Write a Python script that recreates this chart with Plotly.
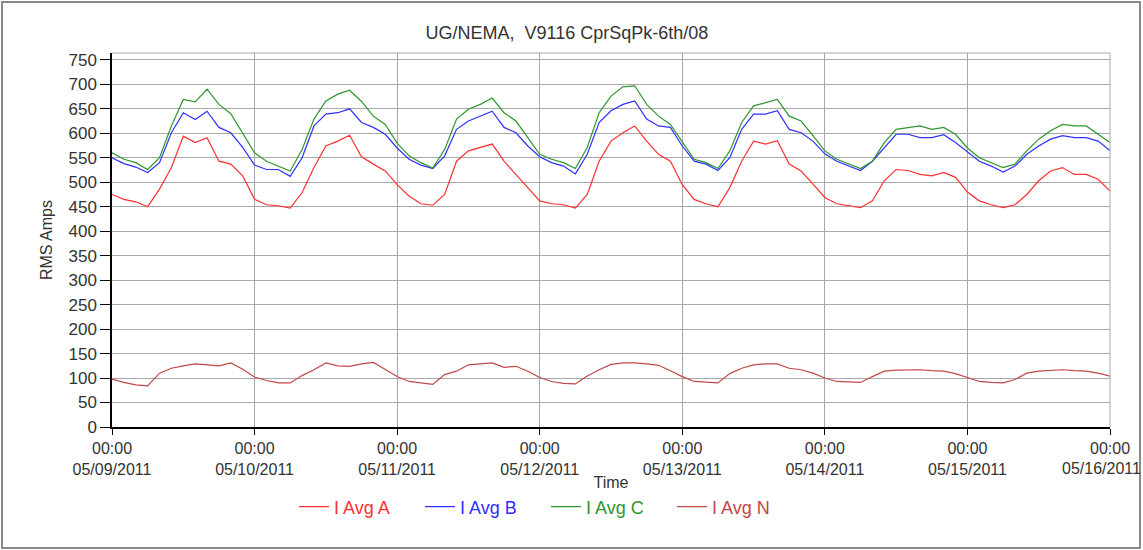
import pandas as pd
import plotly.graph_objects as go

# 2-hourly readings, 05/09/2011 00:00 .. 05/16/2011 00:00
i_avg_a = [475, 465, 460, 450, 486, 530, 594, 581, 591, 543, 537, 513,
           465, 454, 452, 447, 479, 530, 574, 584, 596, 552, 537, 523,
           495, 472, 456, 453, 475, 543, 564, 571, 578, 543, 516, 489,
           462, 456, 454, 447, 475, 543, 584, 601, 615, 584, 557, 543,
           495, 465, 456, 450, 489, 543, 584, 578, 585, 537, 523, 496,
           469, 456, 452, 448, 462, 503, 526, 524, 516, 513, 520, 510,
           480, 462, 454, 448, 454, 475, 503, 523, 530, 516, 516, 506,
           482]
i_avg_b = [550, 538, 531, 520, 540, 601, 642, 628, 645, 612, 601, 571,
           535, 526, 526, 512, 550, 615, 639, 642, 650, 622, 612, 598,
           570, 547, 535, 528, 554, 608, 625, 635, 645, 612, 601, 574,
           552, 540, 533, 517, 557, 622, 646, 659, 666, 629, 615, 612,
           574, 543, 537, 524, 550, 608, 639, 639, 646, 608, 601, 584,
           558, 543, 533, 524, 543, 571, 598, 598, 591, 591, 597, 581,
           562, 543, 533, 521, 533, 557, 574, 588, 595, 591, 591, 584,
           565]
i_avg_c = [560, 547, 540, 526, 550, 615, 669, 664, 690, 659, 640, 601,
           560, 543, 533, 523, 567, 629, 666, 680, 688, 665, 635, 618,
           580, 554, 540, 529, 567, 629, 649, 659, 672, 642, 625, 591,
           557, 547, 540, 528, 571, 642, 676, 695, 697, 659, 635, 618,
           583, 547, 540, 528, 564, 622, 656, 663, 669, 635, 625, 595,
           564, 547, 537, 528, 543, 581, 608, 612, 615, 608, 612, 598,
           570, 550, 540, 530, 537, 564, 588, 605, 618, 615, 615, 598,
           581]
i_avg_n = [98, 91, 86, 84, 110, 120, 125, 129, 127, 125, 131, 118,
           102, 95, 90, 90, 105, 117, 131, 125, 124, 129, 132, 118,
           103, 93, 90, 87, 107, 114, 127, 129, 131, 122, 124, 114,
           101, 93, 89, 88, 104, 117, 128, 131, 131, 129, 126, 115,
           103, 93, 91, 90, 109, 120, 127, 129, 129, 120, 117, 110,
           100, 93, 92, 91, 103, 114, 116, 116, 117, 115, 114, 109,
           101, 93, 91, 90, 97, 110, 114, 116, 117, 115, 114, 110,
           104]

series_names = ["I Avg A", "I Avg B", "I Avg C", "I Avg N"]
series_colors = ["#ff3030", "#3030ff", "#2e962e", "#c04848"]
day_labels = ["05/09/2011", "05/10/2011", "05/11/2011", "05/12/2011",
              "05/13/2011", "05/14/2011", "05/15/2011", "05/16/2011"]
y_ticks = list(range(0, 751, 50))

times = pd.date_range("2011-05-09 00:00", periods=len(i_avg_a), freq="2h")
day_ticks = pd.date_range("2011-05-09", periods=len(day_labels), freq="D")

FONT = "Liberation Sans, Arial, sans-serif"
TXT = "#333333"
fig = go.Figure()
for name, vals, col in zip(series_names, [i_avg_a, i_avg_b, i_avg_c, i_avg_n], series_colors):
    fig.add_trace(go.Scatter(
        x=times, y=vals, mode="lines",
        name=f"<span style='color:{col}'>{name}</span>",
        line=dict(color=col, width=1.2),
    ))

L, R, T, B = 112, 33, 53, 123
W, H = 1143, 550
pw, ph = W - L - R, H - T - B

def px(x):
    return (x - L) / pw

def py(y):
    return (H - B - y) / ph

# the last tick's date line would run past the page edge: its time stays a
# tick label, its date is an annotation that ends at the page edge
tick_text = [f"00:00<br>{d}" for d in day_labels[:-1]] + ["00:00"]

fig.update_layout(
    width=W, height=H,
    margin=dict(l=L, r=R, t=T, b=B),
    paper_bgcolor="white", plot_bgcolor="white",
    font=dict(family=FONT, size=16, color=TXT),
    title=dict(text="UG/NEMA,  V9116 CprSqPk-6th/08", x=px(567), xref="paper",
               xanchor="center", y=1 - 33 / H, yanchor="middle",
               font=dict(family=FONT, size=18, color=TXT)),
    showlegend=True,
    legend=dict(orientation="h", x=px(294), xanchor="left", y=py(507), yanchor="middle",
                font=dict(family=FONT, size=18), bgcolor="rgba(0,0,0,0)",
                entrywidth=81, entrywidthmode="pixels", tracegroupgap=0),
    xaxis=dict(
        range=[day_ticks[0], day_ticks[-1]],
        tickvals=day_ticks,
        ticktext=tick_text,
        ticks="outside", ticklen=6, tickcolor="black",
        showline=True, linecolor="black", linewidth=1.5,
        showgrid=True, gridcolor="#a8a8a8", gridwidth=1,
        zeroline=False,
        title=dict(text="Time", font=dict(family=FONT, size=16, color=TXT), standoff=0),
        tickfont=dict(family=FONT, size=16, color=TXT),
    ),
    yaxis=dict(
        range=[0, 764],
        tickvals=y_ticks,
        ticks="outside", ticklen=10, tickcolor="black",
        showline=True, linecolor="black", linewidth=1.5,
        showgrid=True, gridcolor="#a8a8a8", gridwidth=1,
        zeroline=False,
        title=dict(text="RMS Amps", font=dict(family=FONT, size=16, color=TXT), standoff=12),
        tickfont=dict(family=FONT, size=17, color=TXT),
    ),
    annotations=[
        dict(text=day_labels[-1], xref="paper", yref="paper", x=px(W), xanchor="right",
             y=py(468), yanchor="middle", showarrow=False,
             font=dict(family=FONT, size=16, color=TXT)),
    ],
    shapes=[
        dict(type="line", xref="paper", yref="paper", x0=0, x1=1, y0=1, y1=1,
             line=dict(color="#a8a8a8", width=1)),
        dict(type="line", xref="paper", yref="paper", x0=1, x1=1, y0=0, y1=1,
             line=dict(color="#a8a8a8", width=1)),
        dict(type="rect", xref="paper", yref="paper", x0=px(2), x1=px(1140),
             y0=py(548), y1=py(2), line=dict(color="#8a8a8a", width=2), layer="below"),
    ],
)

fig.write_html("out.html")
